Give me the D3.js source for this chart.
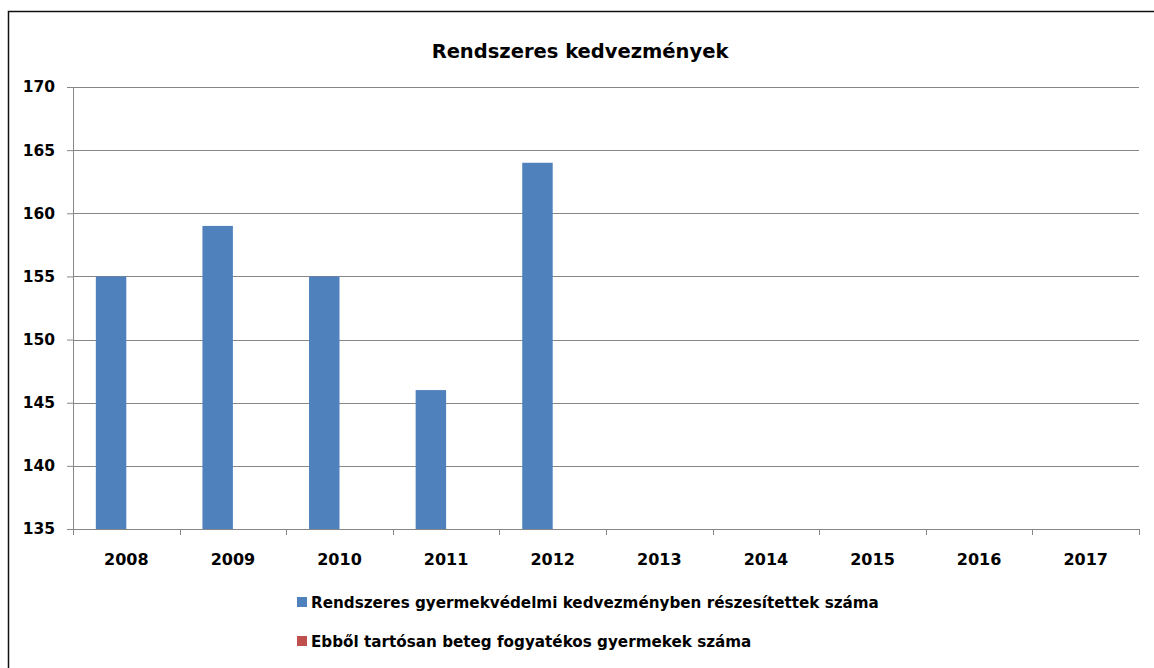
<!DOCTYPE html>
<html>
<head>
<meta charset="utf-8">
<script src="https://cdn.jsdelivr.net/npm/d3@7"></script>
<style>
  body { margin: 0; background: #fff; }
  text { font-family: "DejaVu Sans", sans-serif; font-weight: bold; fill: #000; }
</style>
</head>
<body>
<div class="chartDiv"></div>
<script>
// chart data
const years = ['2008', '2009', '2010', '2011', '2012', '2013', '2014', '2015', '2016', '2017'];
const regularBenefit = [155, 159, 155, 146, 164, null, null, null, null, null];
const chronicIll = [null, null, null, null, null, null, null, null, null, null];
const yTicks = [135, 140, 145, 150, 155, 160, 165, 170];
const seriesNames = [
  'Rendszeres gyermekvédelmi kedvezményben részesítettek száma',
  'Ebből tartósan beteg fogyatékos gyermekek száma'
];
const seriesColors = ['#4f81bd', '#c0504d'];
const chartTitle = 'Rendszeres kedvezmények';

let svgWidth = 1154;
let svgHeight = 668;

let margin = { top: 87, bottom: 139, left: 73, right: 15 };
let graphWidth = svgWidth - margin.left - margin.right;
let graphHeight = svgHeight - margin.top - margin.bottom;

let svg = d3.select('.chartDiv')
  .append('svg')
  .attr('width', svgWidth)
  .attr('height', svgHeight);

// outer frame
svg.append('rect')
  .attr('x', 8.5).attr('y', 11.5)
  .attr('width', svgWidth).attr('height', svgHeight)
  .attr('fill', '#fff')
  .attr('stroke', '#111')
  .attr('stroke-width', 1.5);

svg.append('text')
  .attr('x', 580).attr('y', 58)
  .attr('text-anchor', 'middle')
  .style('font-size', '19.5px')
  .text(chartTitle);

let chartGroup = svg.append('g')
  .attr('transform', `translate(${margin.left}, ${margin.top})`);

let xScale = d3.scaleBand()
  .domain(years)
  .range([0, graphWidth]);

let xSub = d3.scaleBand()
  .domain([0, 1])
  .range([0, xScale.bandwidth()])
  .paddingInner(0)
  .paddingOuter(0.75);

let yScale = d3.scaleLinear()
  .domain([135, 170])
  .range([graphHeight, 0]);

// gridlines
chartGroup.append('g')
  .selectAll('line')
  .data(yTicks.slice(1))
  .enter().append('line')
  .attr('x1', 0).attr('x2', graphWidth)
  .attr('y1', d => Math.round(yScale(d)) + 0.5)
  .attr('y2', d => Math.round(yScale(d)) + 0.5)
  .attr('stroke', '#878787');

// bars
let allSeries = [regularBenefit, chronicIll];
allSeries.forEach((vals, si) => {
  chartGroup.append('g')
    .selectAll('rect')
    .data(years.map((y, i) => ({ year: y, value: vals[i] })).filter(d => d.value != null))
    .enter().append('rect')
    .attr('x', d => xScale(d.year) + xSub(si))
    .attr('width', xSub.bandwidth())
    .attr('y', d => yScale(d.value))
    .attr('height', d => graphHeight - yScale(d.value))
    .attr('fill', seriesColors[si]);
});

let leftaxis = d3.axisLeft(yScale).tickValues(yTicks).tickSize(6).tickPadding(12);
let yAxisG = chartGroup.append('g').call(leftaxis);
yAxisG.select('.domain').attr('stroke', '#878787').attr('d', `M0.5,0V${graphHeight}`);
yAxisG.selectAll('.tick line').attr('stroke', '#878787');
yAxisG.selectAll('.tick text').style('font-size', '15.5px').style('font-family', '"DejaVu Sans", sans-serif');

let bottomaxis = d3.axisBottom(xScale).tickSize(0).tickPadding(25);
let xAxisG = chartGroup.append('g')
  .attr('transform', `translate(0, ${graphHeight})`)
  .call(bottomaxis);
xAxisG.select('.domain').attr('stroke', '#878787').attr('d', `M0,0.5H${graphWidth}`);
xAxisG.selectAll('.tick text').style('font-size', '16px').style('font-family', '"DejaVu Sans", sans-serif');

// category boundary ticks
xAxisG.append('g')
  .selectAll('line')
  .data(years.concat(['end']))
  .enter().append('line')
  .attr('x1', (d, i) => Math.round(i * xScale.step()) + 0.5)
  .attr('x2', (d, i) => Math.round(i * xScale.step()) + 0.5)
  .attr('y1', 0).attr('y2', 6)
  .attr('stroke', '#878787');

// legend
let legend = svg.append('g').attr('transform', 'translate(297, 602)');
seriesNames.forEach((name, i) => {
  let row = legend.append('g').attr('transform', `translate(0, ${i * 39})`);
  row.append('rect')
    .attr('x', 0).attr('y', -5)
    .attr('width', 10).attr('height', 10)
    .attr('fill', seriesColors[i]);
  row.append('text')
    .attr('x', 14).attr('y', 5.5)
    .style('font-size', '15.2px')
    .text(name);
});
</script>
</body>
</html>
